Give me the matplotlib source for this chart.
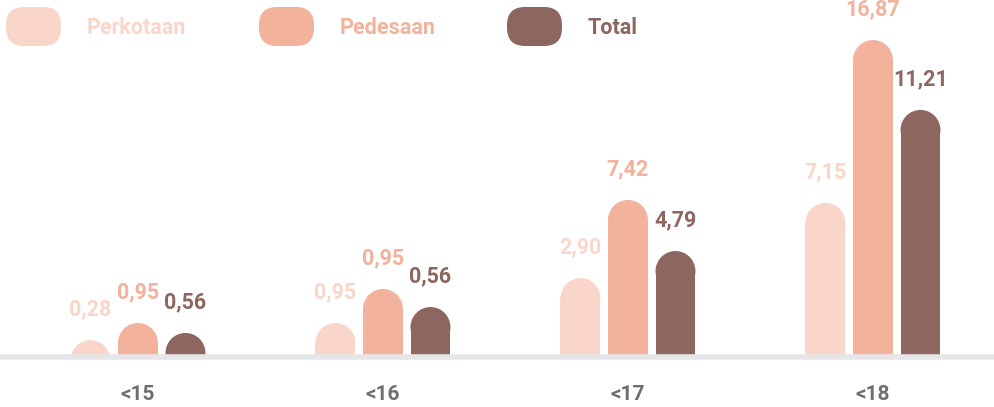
import matplotlib
matplotlib.use("Agg")
from matplotlib import pyplot as plt
from matplotlib.patches import Ellipse, FancyBboxPatch

plt.rcParams['font.family'] = ['Roboto', 'DejaVu Sans']
plt.rcParams['font.weight'] = 'bold'

# kelompok umur
kategori = ['<15', '<16', '<17', '<18']
seri = ['Perkotaan', 'Pedesaan', 'Total']

# angka yang tertulis di atas batang
perkotaan = [0.28, 0.95, 2.90, 7.15]
pedesaan = [0.95, 0.95, 7.42, 16.87]
total = [0.56, 0.56, 4.79, 11.21]

# tinggi batang seperti tergambar (skala sama dengan 16,87)
tinggi_perkotaan = [0.90, 1.81, 4.20, 8.20]
tinggi_pedesaan = [1.81, 3.62, 8.36, 16.87]
tinggi_total = [1.28, 2.66, 5.64, 13.15]

warna = ['#FAD5CA', '#F2B29B', '#8E6660']

fig = plt.figure(figsize=(9.94, 4.07), dpi=100)
ax = fig.add_axes([0, 50 / 407, 1, 357 / 407])
ax.set_xlim(-0.563, 3.494)
ax.set_ylim(0, 19.0)

lebar = 0.163
geser = 0.194
ry = 1.07  # jari-jari ujung bulat dalam satuan y

nilai_semua = [perkotaan, pedesaan, total]
tinggi_semua = [tinggi_perkotaan, tinggi_pedesaan, tinggi_total]

for s in range(3):
    for i in range(len(kategori)):
        x = i + (s - 1) * geser
        h = tinggi_semua[s][i]
        ax.bar(x, h - ry, width=lebar, bottom=0, color=warna[s], linewidth=0)
        ax.add_patch(Ellipse((x, h - ry), lebar, 2 * ry, color=warna[s], linewidth=0))
        teks = ('%.2f' % nilai_semua[s][i]).replace('.', ',')
        ax.annotate(teks, xy=(x, h), xytext=(0, 22), textcoords='offset points',
                    ha='center', va='center', fontsize=15.5, fontweight='bold',
                    color=warna[s], annotation_clip=False)

for i in range(len(kategori)):
    ax.annotate(kategori[i], xy=(i, 0), xycoords=('data', 'axes fraction'),
                xytext=(0, -27), textcoords='offset points',
                ha='center', va='center', fontsize=15, fontweight='bold',
                color='#6D6E71', annotation_clip=False)

for sp in ['top', 'left', 'right']:
    ax.spines[sp].set_visible(False)
ax.spines['bottom'].set_color('#E6E6E8')
ax.spines['bottom'].set_linewidth(4)
ax.set_xticks([])
ax.set_yticks([])

# legenda manual di atas
leg = fig.add_axes([0, 1 - 56 / 407, 1, 56 / 407])
leg.set_xlim(0, 994)
leg.set_ylim(56, 0)
leg.axis('off')
pil_x = [6, 259, 507]
for s in range(3):
    leg.add_patch(FancyBboxPatch((pil_x[s], 7), 55, 39,
                                 boxstyle='round,pad=0,rounding_size=18',
                                 color=warna[s], linewidth=0))
    leg.text(pil_x[s] + 81, 28, seri[s], ha='left', va='center',
             fontsize=15.5, fontweight='bold', color=warna[s])

fig.savefig('out.png', dpi=100)
